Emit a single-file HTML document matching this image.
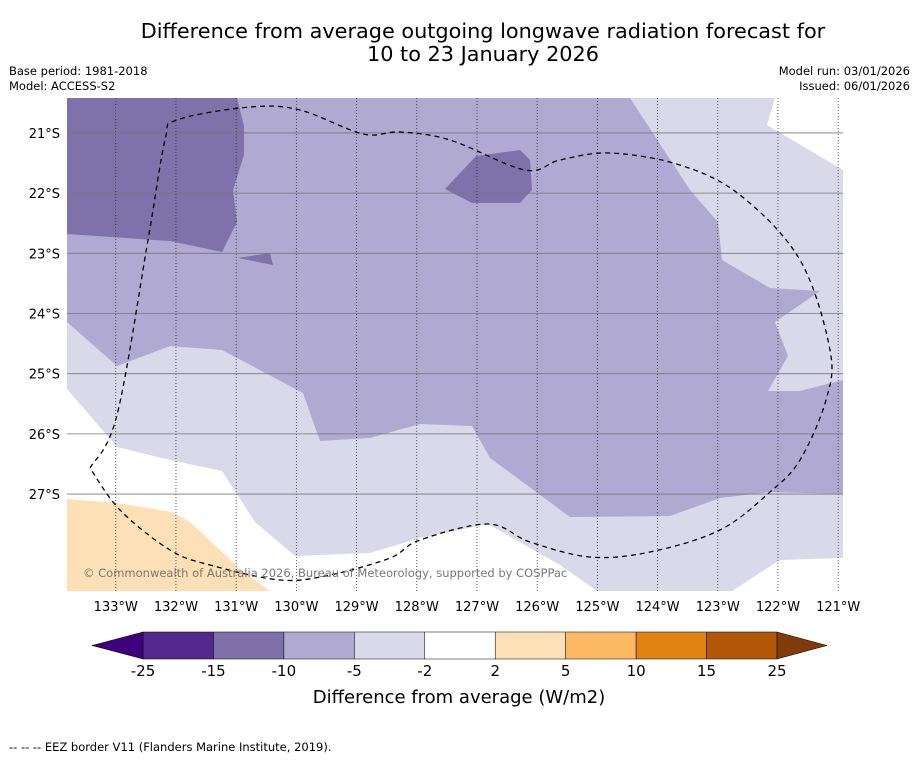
<!DOCTYPE html>
<html><head><meta charset="utf-8">
<style>
body{margin:0;background:#fff;width:919px;height:758px;overflow:hidden;font-family:"Liberation Sans","DejaVu Sans",sans-serif;}
svg text{font-family:"DejaVu Sans","Liberation Sans",sans-serif;}
</style></head>
<body>
<svg width="919" height="758">
<text x="483" y="38" font-size="20.8" text-anchor="middle">Difference from average outgoing longwave radiation forecast for</text>
<text x="483" y="61" font-size="20.8" text-anchor="middle">10 to 23 January 2026</text>
<text x="9" y="75" font-size="11.5">Base period: 1981-2018</text>
<text x="9" y="90" font-size="11.5">Model: ACCESS-S2</text>
<text x="910" y="75" font-size="11.5" text-anchor="end">Model run: 03/01/2026</text>
<text x="910" y="90" font-size="11.5" text-anchor="end">Issued: 06/01/2026</text>
<defs><clipPath id="mc"><rect x="67" y="98" width="776" height="493"/></clipPath></defs>
<g id="map" clip-path="url(#mc)"></g>
<g id="axes"></g>
<g id="cbar"></g>
<text x="459" y="703" font-size="18" text-anchor="middle">Difference from average (W/m2)</text>
<text x="9" y="751" font-size="11.5">--  --  -- EEZ border V11 (Flanders Marine Institute, 2019).</text>
</svg>
<script>
const NS="http://www.w3.org/2000/svg";
const lonTicks=[133,132,131,130,129,128,127,126,125,124,123,122,121];
const latTicks=[21,22,23,24,25,26,27];
const cbBounds=[-25,-15,-10,-5,-2,2,5,10,15,25];
const cbColors=["#54278f","#7f70ab","#b0aad2","#d9d9ea","#ffffff","#fee0b6","#fdb863","#e08214","#b35806"];
const lonL=133.81,lonR=120.92,latT=20.42,latB=28.61,X0=67,X1=843,Y0=98,Y1=591;
const px=lon=>X0+(lonL-lon)/(lonL-lonR)*(X1-X0);
const py=lat=>Y0+(lat-latT)/(latB-latT)*(Y1-Y0);
const ipx=x=>lonL-(x-X0)/(X1-X0)*(lonL-lonR);
const ipy=y=>latT+(y-Y0)/(Y1-Y0)*(latB-latT);
const toLL=a=>a.map(p=>[ipx(p[0]),ipy(p[1])]);
const regions=[
 {name:"region-light-top-right",c:"#d9d9ea",p:toLL([[630,98],[843,98],[843,380],[800,391],[768,391],[788,356],[775,322],[820,291],[770,288],[722,260],[718,222],[690,190]])},
 {name:"region-white-top-right",c:"#ffffff",p:toLL([[775,98],[843,98],[843,170],[767,125]])},
 {name:"region-light-bottom",c:"#d9d9ea",p:toLL([[67,322],[117,366],[170,346],[222,350],[303,393],[320,441],[370,438],[420,424],[472,426],[490,458],[570,517],[670,516],[720,498],[770,492],[843,494],[843,591],[67,591]])},
 {name:"region-white-bottom",c:"#ffffff",p:toLL([[67,389],[117,447],[170,460],[222,471],[255,522],[295,556],[370,553],[420,538],[488,524],[560,565],[597,591],[67,591]])},
 {name:"region-white-bottom-right",c:"#ffffff",p:toLL([[732,591],[780,560],[843,558],[843,591]])},
 {name:"region-peach",c:"#fee0b6",p:toLL([[67,499],[117,503],[172,512],[190,522],[240,569],[270,591],[67,591]])},
 {name:"region-dark-top-left",c:"#7f72ab",p:toLL([[67,98],[237,98],[244,126],[244,155],[233,190],[237,222],[222,252],[170,241],[67,234]])},
 {name:"region-dark-blob",c:"#7f72ab",p:toLL([[445,189],[476,156],[520,150],[530,160],[532,190],[520,203],[472,203]])},
 {name:"region-dark-small",c:"#7f72ab",p:toLL([[238,258],[270,253],[273,265]])}
];
const eez=toLL([[90,468],[117,415],[148,240],[165,140],[177,120],[250,107],[300,110],[363,134],[400,132],[450,140],[525,170],[560,160],[610,153],[680,165],[740,195],[800,260],[830,350],[826,400],[800,460],[770,492],[720,530],[650,552],[590,557],[530,542],[488,524],[420,540],[390,558],[330,575],[280,580],[210,565],[170,550],[120,510],[90,468]]);
function el(t,a,parent){const e=document.createElementNS(NS,t);for(const k in a)e.setAttribute(k,a[k]);parent.appendChild(e);return e;}
function smooth(pts){let d="M"+pts[0][0]+","+pts[0][1];const n=pts.length;
 for(let i=0;i<n-1;i++){const p0=pts[Math.max(i-1,0)],p1=pts[i],p2=pts[i+1],p3=pts[Math.min(i+2,n-1)];
  const c1=[p1[0]+(p2[0]-p0[0])/6,p1[1]+(p2[1]-p0[1])/6],c2=[p2[0]-(p3[0]-p1[0])/6,p2[1]-(p3[1]-p1[1])/6];
  d+=` C${c1[0]},${c1[1]} ${c2[0]},${c2[1]} ${p2[0]},${p2[1]}`;}return d;}
const map=document.getElementById('map');
let bg=el('rect',{x:X0,y:Y0,width:X1-X0,height:Y1-Y0,fill:"#b0a9d1"},map);


regions.forEach(r=>{
 const e=el('polygon',{points:r.p.map(q=>px(q[0])+","+py(q[1])).join(" "),fill:r.c},map);
 
 
});
lonTicks.forEach(l=>{const e=el('line',{x1:px(l),x2:px(l),y1:Y0,y2:Y1,stroke:"#333","stroke-width":0.8,"stroke-dasharray":"1,2"},map);
 });
latTicks.forEach(l=>{const e=el('line',{x1:X0,x2:X1,y1:py(l),y2:py(l),stroke:"#777","stroke-width":0.8},map);
 });
const ez=el('path',{d:smooth(eez.map(q=>[px(q[0]),py(q[1])])),fill:"none",stroke:"#000","stroke-width":1.3,"stroke-dasharray":"5,4"},map);


const cp=el('text',{x:83,y:577,"font-size":11.5,fill:"#777"},map);cp.textContent="© Commonwealth of Australia 2026, Bureau of Meteorology, supported by COSPPac";


const ax=document.getElementById('axes');
lonTicks.forEach(l=>{const t=el('text',{x:px(l),y:611,"font-size":13,"text-anchor":"middle"},ax);t.textContent=l+"°W";
 });
latTicks.forEach(l=>{const t=el('text',{x:60,y:py(l)+5,"font-size":13,"text-anchor":"end"},ax);t.textContent=l+"°S";
 });
const cb=document.getElementById('cbar');const cx0=143,cx1=777,cy=632,ch=27;
const cw=(cx1-cx0)/(cbBounds.length-1);
cbColors.forEach((c,i)=>{const r=el('rect',{x:cx0+i*cw,y:cy,width:cw,height:ch,fill:c,stroke:"#000","stroke-width":0.5},cb);
 });
let tl=el('polygon',{points:`${cx0},${cy} 92,${cy+ch/2} ${cx0},${cy+ch}`,fill:"#3f007d",stroke:"#000","stroke-width":0.5},cb);

let tr=el('polygon',{points:`${cx1},${cy} 827,${cy+ch/2} ${cx1},${cy+ch}`,fill:"#7f3b08",stroke:"#000","stroke-width":0.5},cb);

cbBounds.forEach((b,i)=>{const t=el('text',{x:cx0+i*cw,y:676,"font-size":15,"text-anchor":"middle"},cb);t.textContent=b;
 });
</script>
</body></html>
